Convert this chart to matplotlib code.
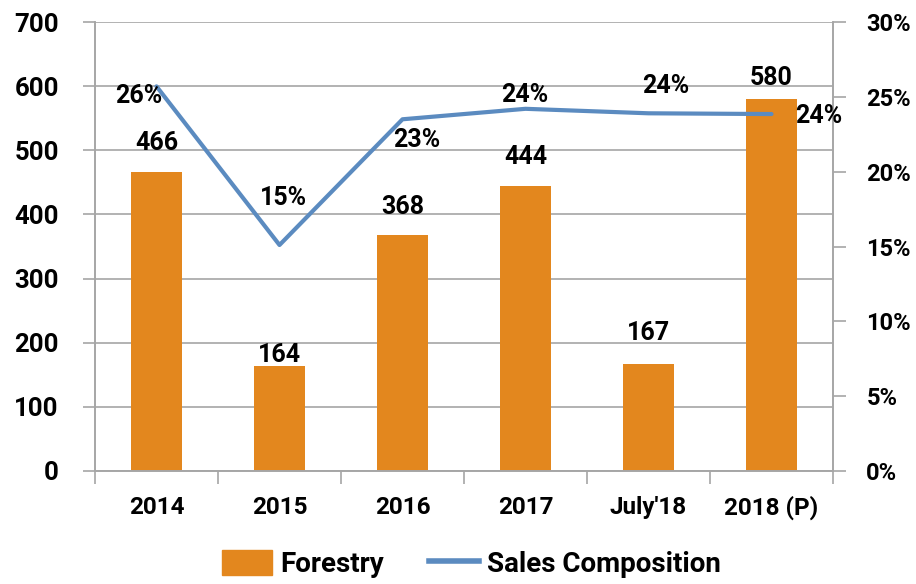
import matplotlib
matplotlib.use("Agg")
import matplotlib.pyplot as plt
from matplotlib.ticker import FuncFormatter

plt.rcParams['font.family'] = ['Roboto', 'DejaVu Sans']
plt.rcParams['font.weight'] = 'bold'

# data
years = ['2014', '2015', '2016', '2017', "July'18", '2018 (P)']
forestry = [466, 164, 368, 444, 167, 580]
sales_comp = [25.7, 15.1, 23.5, 24.2, 23.9, 23.85]
pct_labels = ['26%', '15%', '23%', '24%', '24%', '24%']

# label offsets (pixels)
bar_dy = [29, 11, 28, 29, 31, 21]
pct_off = [(-18, -10), (4, 47), (14, -21), (-1, 14), (17, 27), (47, -2)]

bar_color = '#E3871E'
line_color = '#5B8BC0'
grid_color = '#A6A6A6'

fig = plt.figure(figsize=(9.16, 5.84), dpi=100)
ax = fig.add_axes([95/916, 1-471/584, 738/916, 449/584])
ax2 = ax.twinx()

x = range(len(years))
ax.bar(x, forestry, width=0.41, color=bar_color, zorder=2)
ax.set_xlim(-0.5, len(years)-0.5)
ax.set_ylim(0, 700)
ax.set_yticks(range(0, 701, 100))
ax.yaxis.grid(True, color=grid_color, lw=1.2, zorder=0)
ax.set_axisbelow(True)

ax2.plot(x, sales_comp, color=line_color, lw=3, solid_capstyle='round', zorder=3)
ax2.set_ylim(0, 30)
ax2.set_yticks(range(0, 31, 5))
ax2.yaxis.set_major_formatter(FuncFormatter(lambda v, p: '%d%%' % v))

# x ticks at category boundaries, labels at centers
ax.set_xticks([i - 0.5 for i in range(len(years)+1)])
ax.set_xticklabels([])
ax.set_xticks(list(x), minor=True)
ax.set_xticklabels(years, minor=True, fontweight='bold')
ax.tick_params(axis='x', which='major', length=9, color=grid_color, width=1.2, direction='out')
ax.tick_params(axis='x', which='minor', length=0, pad=18, labelsize=17.5)
ax.tick_params(axis='y', length=9, color=grid_color, width=1.2, pad=17, labelsize=18.5)
ax2.tick_params(axis='y', length=9, color=grid_color, width=1.2, pad=15, labelsize=17)
for lab in ax.get_yticklabels() + ax2.get_yticklabels():
    lab.set_fontweight('bold')

for a in (ax, ax2):
    a.spines['top'].set_visible(False)
    for s in ('left', 'right', 'bottom'):
        a.spines[s].set_color(grid_color)
        a.spines[s].set_linewidth(1.2)

for i, v in enumerate(forestry):
    ax.annotate(str(v), (i, v), xytext=(0, bar_dy[i]), textcoords='offset pixels',
                ha='center', va='center', fontsize=18, fontweight='bold')

for i, v in enumerate(sales_comp):
    ax2.annotate(pct_labels[i], (i, v), xytext=pct_off[i], textcoords='offset pixels',
                 ha='center', va='center', fontsize=18, fontweight='bold', zorder=4)

h1 = plt.Rectangle((0, 0), 1, 1, color=bar_color)
h2 = plt.Line2D([], [], color=line_color, lw=4)
fig.legend([h1, h2], ['Forestry', 'Sales Composition'], loc='center',
           bbox_to_anchor=(0.515, 0.034), ncol=2, frameon=False,
           prop={'size': 20, 'weight': 'bold'},
           handlelength=1.8, handleheight=1.0, columnspacing=1.6, handletextpad=0.3,
           borderpad=0.1)

fig.savefig('out.png', dpi=100)
